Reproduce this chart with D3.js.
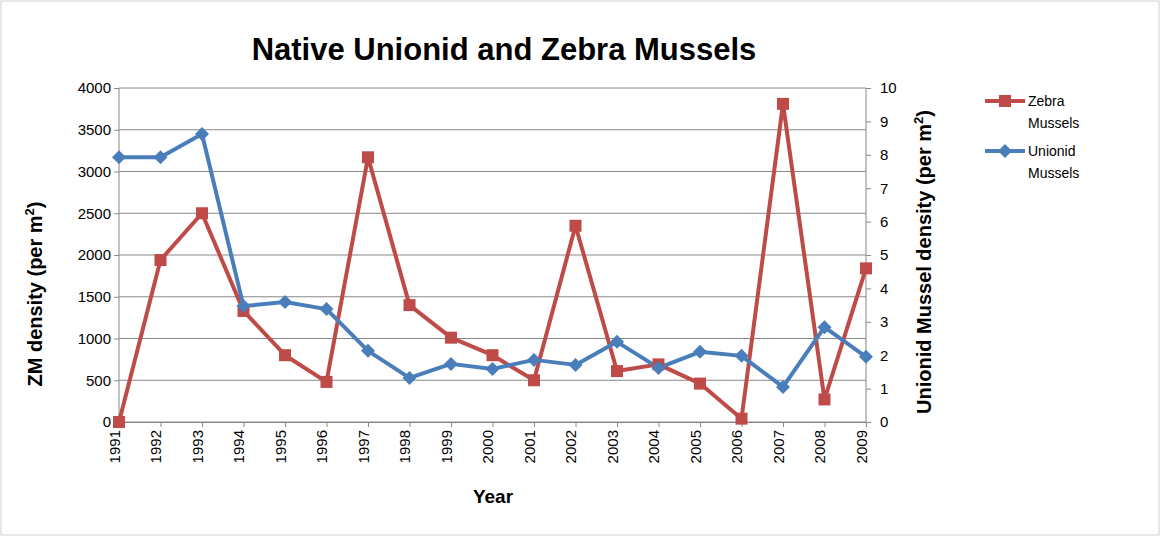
<!DOCTYPE html>
<html><head><meta charset="utf-8">
<script src="https://cdn.jsdelivr.net/npm/d3@7"></script>
<style>body{margin:0;background:#fff;font-family:Calibri,"Liberation Sans",Arial,sans-serif}</style>
</head><body><svg id="c" width="1162" height="538"></svg>
<script>
const years=[1991,1992,1993,1994,1995,1996,1997,1998,1999,2000,2001,2002,2003,2004,2005,2006,2007,2008,2009];
const zebra=[0,1940,2500,1330,800,480,3170,1400,1010,800,500,2350,610,690,460,40,3810,270,1840];
const unionid=[7.93,7.93,8.62,3.47,3.59,3.38,2.13,1.32,1.74,1.59,1.86,1.71,2.40,1.62,2.10,1.98,1.05,2.84,1.95];
const leftTicks=[0,500,1000,1500,2000,2500,3000,3500,4000];
const rightTicks=[0,1,2,3,4,5,6,7,8,9,10];
const svg=d3.select("#c");
const F='"Liberation Sans",Arial,sans-serif';
svg.append("rect").attr("x",1).attr("y",1).attr("width",1158).attr("height",534).attr("fill","#fff").attr("stroke","#d0d0d0");
const x=d3.scalePoint().domain(years).range([119,866]);
const yL=d3.scaleLinear().domain([0,4000]).range([422,88]);
const yR=d3.scaleLinear().domain([0,10]).range([422,88]);
const g=svg.append("g");
g.selectAll(".gl").data(leftTicks).join("line").attr("x1",119).attr("x2",866).attr("y1",d=>yL(d)).attr("y2",d=>yL(d)).attr("stroke","#888").attr("stroke-width",1);
g.append("line").attr("x1",119).attr("x2",119).attr("y1",88).attr("y2",422).attr("stroke","#888");
g.append("line").attr("x1",866).attr("x2",866).attr("y1",88).attr("y2",422).attr("stroke","#888");
const ax=svg.append("g").attr("transform","translate(0,422)").call(d3.axisBottom(x).tickSize(5).tickFormat(d3.format("d")));
ax.select(".domain").attr("stroke","#888");ax.selectAll("line").attr("stroke","#888");
ax.selectAll("text").attr("transform","rotate(-90)").attr("text-anchor","end").attr("x",-8).attr("y",-5).attr("dx",0).attr("dy","0.35em").style("font-family",F).style("font-size","15px").attr("fill","#000");
const al=svg.append("g").attr("transform","translate(119,0)").call(d3.axisLeft(yL).tickValues(leftTicks).tickSize(5).tickFormat(d3.format("d")));
al.select(".domain").remove();al.selectAll("line").attr("stroke","#888");
al.selectAll("text").style("font-family",F).style("font-size","15px").attr("fill","#000");
const ar=svg.append("g").attr("transform","translate(866,0)").call(d3.axisRight(yR).tickValues(rightTicks).tickSize(5));
ar.select(".domain").remove();ar.selectAll("line").attr("stroke","#888");
ar.selectAll("text").style("font-family",F).style("font-size","15px").attr("fill","#000").attr("x",14);
const red="#be4b48",blue="#4a7ebb";
const lz=d3.line().x((d,i)=>x(years[i])).y(d=>yL(d));
const lu=d3.line().x((d,i)=>x(years[i])).y(d=>yR(d));
svg.append("path").attr("d",lz(zebra)).attr("fill","none").attr("stroke",red).attr("stroke-width",4).attr("stroke-linejoin","round");
svg.append("path").attr("d",lu(unionid)).attr("fill","none").attr("stroke",blue).attr("stroke-width",4).attr("stroke-linejoin","round");
svg.selectAll(".zm").data(zebra).join("rect").attr("x",(d,i)=>x(years[i])-6).attr("y",d=>yL(d)-6).attr("width",12).attr("height",12).attr("fill",red);
svg.selectAll(".um").data(unionid).join("path").attr("transform",(d,i)=>`translate(${x(years[i])},${yR(d)})`).attr("d","M0,-7L7,0L0,7L-7,0Z").attr("fill",blue);
svg.append("text").attr("x",504).attr("y",60).attr("text-anchor","middle").style("font-family",F).style("font-weight","bold").style("font-size","31px").text("Native Unionid and Zebra Mussels");
svg.append("text").attr("x",493).attr("y",503).attr("text-anchor","middle").style("font-family",F).style("font-weight","bold").style("font-size","19px").text("Year");
const lt=svg.append("text").attr("transform","translate(42,294) rotate(-90)").attr("text-anchor","middle").style("font-family",F).style("font-weight","bold").style("font-size","20px");
lt.append("tspan").text("ZM density (per m");lt.append("tspan").attr("dy",-8).style("font-size","13px").text("2");lt.append("tspan").attr("dy",8).text(")");
const rt=svg.append("text").attr("transform","translate(931,262) rotate(-90)").attr("text-anchor","middle").style("font-family",F).style("font-weight","bold").style("font-size","20px");
rt.append("tspan").text("Unionid Mussel  density (per m");rt.append("tspan").attr("dy",-8).style("font-size","13px").text("2");rt.append("tspan").attr("dy",8).text(")");
const leg=[{n:["Zebra","Mussels"],c:red,y:101,s:"sq"},{n:["Unionid","Mussels"],c:blue,y:151,s:"di"}];
leg.forEach(l=>{
 svg.append("line").attr("x1",985).attr("x2",1025).attr("y1",l.y).attr("y2",l.y).attr("stroke",l.c).attr("stroke-width",4);
 if(l.s=="sq")svg.append("rect").attr("x",999).attr("y",l.y-6).attr("width",12).attr("height",12).attr("fill",l.c);
 else svg.append("path").attr("transform",`translate(1005,${l.y})`).attr("d","M0,-7L7,0L0,7L-7,0Z").attr("fill",l.c);
 svg.append("text").attr("x",1028).attr("y",l.y+5).style("font-family",F).style("font-size","14px").text(l.n[0]);
 svg.append("text").attr("x",1028).attr("y",l.y+27).style("font-family",F).style("font-size","14px").text(l.n[1]);
});
</script></body></html>
